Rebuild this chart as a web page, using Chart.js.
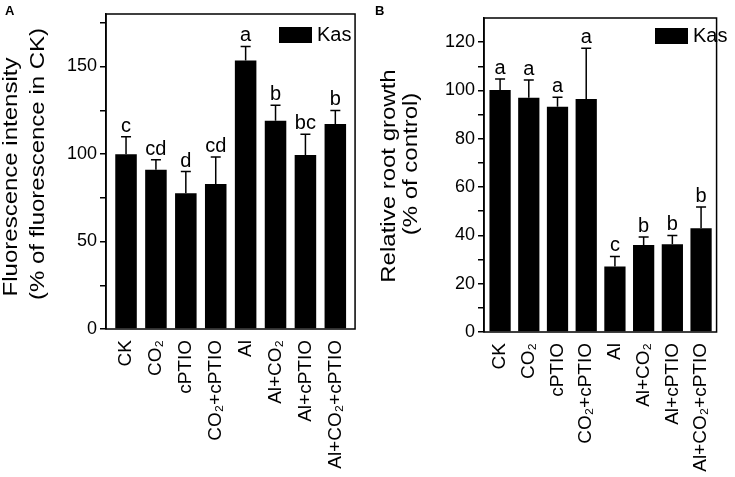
<!DOCTYPE html>
<html><head><meta charset="utf-8">
<script src="https://cdn.jsdelivr.net/npm/chart.js@4.4.1/dist/chart.umd.min.js"></script>
<style>
html,body{margin:0;padding:0;background:#fff;overflow:hidden}
#wrap{position:relative;width:735px;height:477px}
canvas{position:absolute;top:0}
#ca{left:0}
#cb{left:370px}
</style></head>
<body><div id="wrap"><canvas id="ca" width="370" height="477"></canvas><canvas id="cb" width="365" height="477"></canvas></div>
<script>
const categories = ['CK','CO\u2082','cPTIO','CO\u2082+cPTIO','Al','Al+CO\u2082','Al+cPTIO','Al+CO\u2082+cPTIO'];
const fluorMean = [99.8, 91, 77.6, 82.8, 153.4, 119, 99.4, 117.2];
const fluorErr = [10, 5.7, 12.4, 15.5, 8.1, 8.8, 11.9, 7.7];
const fluorLetters = ['c','cd','d','cd','a','b','bc','b'];
const growthMean = [100.2, 97, 93.3, 96.5, 27.1, 36, 36.3, 43];
const growthErr = [4.5, 7.3, 3.9, 21, 4.2, 3.3, 3.7, 8.8];
const growthLetters = ['a','a','a','a','c','b','b','b'];
const yTicksA = [0,25,50,75,100,125,150,175];
const yTicksB = [0,10,20,30,40,50,60,70,80,90,100,110,120];
const seriesName = 'Kas';

const FONT = '"Liberation Sans", Arial, sans-serif';

function makeChart(id, cfg){
  const ctxEl = document.getElementById(id);
  const plugin = {
    id:'extras',
    afterDatasetsDraw(chart){
      const c = chart.ctx, xs = chart.scales.x, ys = chart.scales.y, ca = chart.chartArea;
      c.save();
      // error bars and letters
      c.strokeStyle='#000'; c.lineWidth=1.5;
      cfg.mean.forEach((m,i)=>{
        const x = xs.getPixelForValue(i);
        const y0 = ys.getPixelForValue(m), y1 = ys.getPixelForValue(m+cfg.err[i]);
        c.beginPath(); c.moveTo(x,y0); c.lineTo(x,y1);
        c.moveTo(x-5,y1); c.lineTo(x+5,y1); c.stroke();
        c.fillStyle='#000'; c.font='20px '+FONT; c.textAlign='center'; c.textBaseline='alphabetic';
        c.fillText(cfg.letters[i], x, y1-5);
      });
      // frame
      c.lineWidth=1.5;
      c.strokeRect(ca.left, ca.top, ca.right-ca.left, ca.bottom-ca.top);
      // legend
      c.fillStyle='#000';
      c.fillRect(cfg.leg.x, cfg.leg.y, 33, 16);
      c.font='20px '+FONT; c.textAlign='left'; c.textBaseline='middle';
      c.fillText(seriesName, cfg.leg.x+38, cfg.leg.y+8);
      // panel letter
      c.font='bold 13px '+FONT; c.textBaseline='alphabetic';
      c.fillText(cfg.panel, 5, 15);
      // y titles
      cfg.titles.forEach(t=>{
        c.save(); c.translate(t.x, t.y); c.rotate(-Math.PI/2); c.scale(1.2,1);
        c.font='20px '+FONT; c.textAlign='center'; c.textBaseline='alphabetic';
        c.fillText(t.text, 0, 0); c.restore();
      });
      c.restore();
    }
  };
  return new Chart(ctxEl, {
    type:'bar',
    data:{datasets:[{label:seriesName, data:cfg.mean.map((v,i)=>({x:i,y:v})), backgroundColor:'#000', borderWidth:0, barPercentage:cfg.bp, categoryPercentage:1}]},
    options:{
      responsive:false, animation:false, devicePixelRatio:1,
      layout:{padding:{left:0,right:cfg.padR,top:cfg.padT,bottom:0}},
      plugins:{legend:{display:false}, tooltip:{enabled:false}},
      scales:{
        x:{type:'linear', offset:false, min:cfg.xmin, max:cfg.xmax,
           afterBuildTicks:s=>{s.ticks=categories.map((_,i)=>({value:i}));},
           afterFit:s=>{s.height=cfg.xh;},
           grid:{display:false, drawTicks:false, offset:false}, border:{display:false},
           ticks:{autoSkip:false, minRotation:90, maxRotation:90, padding:11, color:'#000', font:{family:FONT,size:19},
             callback:(v)=>categories[v]}},
        y:{min:0, max:cfg.ymax,
           afterBuildTicks:s=>{s.ticks=cfg.yticks.map(v=>({value:v}));},
           afterFit:s=>{s.width=cfg.yw;},
           grid:{drawOnChartArea:false, color:'#000', lineWidth:1.5, tickLength:6},
           border:{display:true,color:'#000',width:1.5},
           ticks:{padding:3, color:'#000', font:{family:FONT,size:18},
             callback:(v)=> (v % cfg.major === 0 ? String(v) : '')}}
      }
    },
    plugins:[plugin]
  });
}

makeChart('ca', {mean:fluorMean, err:fluorErr, letters:fluorLetters, yticks:yTicksA, ymax:180, major:50,
  xmin:-0.67, xmax:7.66, bp:0.72, padR:11, padT:14, xh:148, yw:106, panel:'A',
  leg:{x:279,y:27},
  titles:[{text:'Fluorescence intensity',x:17,y:177},{text:'(% of fluorescence in CK)',x:44,y:164}]});
makeChart('cb', {mean:growthMean, err:growthErr, letters:growthLetters, yticks:yTicksB, ymax:130, major:20,
  xmin:-0.56, xmax:7.54, bp:0.74, padR:2, padT:18, xh:145, yw:114, panel:'B',
  leg:{x:285,y:28},
  titles:[{text:'Relative root growth',x:25,y:176},{text:'(% of control)',x:47,y:164}]});
</script>
</body></html>
